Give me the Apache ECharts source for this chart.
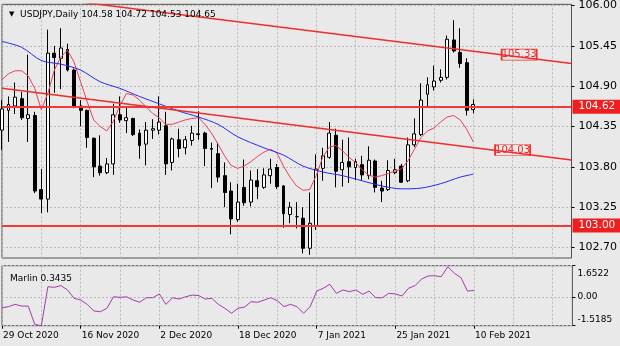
<!DOCTYPE html>
<html><head><meta charset="utf-8">
<script src="https://cdn.jsdelivr.net/npm/echarts@6/dist/echarts.min.js"></script>
<style>html,body{margin:0;padding:0;background:#e9e9e9}#c{width:620px;height:346px}</style>
</head><body><div id="c"></div>
<script>
const dates = ['29 Oct 2020','30 Oct 2020','2 Nov 2020','3 Nov 2020','4 Nov 2020','5 Nov 2020','6 Nov 2020','9 Nov 2020','10 Nov 2020','11 Nov 2020','12 Nov 2020','13 Nov 2020',
'16 Nov 2020','17 Nov 2020','18 Nov 2020','19 Nov 2020','20 Nov 2020','23 Nov 2020','24 Nov 2020','25 Nov 2020','26 Nov 2020','27 Nov 2020','30 Nov 2020','1 Dec 2020',
'2 Dec 2020','3 Dec 2020','4 Dec 2020','7 Dec 2020','8 Dec 2020','9 Dec 2020','10 Dec 2020','11 Dec 2020','14 Dec 2020','15 Dec 2020','16 Dec 2020','17 Dec 2020',
'18 Dec 2020','21 Dec 2020','22 Dec 2020','23 Dec 2020','24 Dec 2020','28 Dec 2020','29 Dec 2020','30 Dec 2020','31 Dec 2020','4 Jan 2021','5 Jan 2021','6 Jan 2021',
'7 Jan 2021','8 Jan 2021','11 Jan 2021','12 Jan 2021','13 Jan 2021','14 Jan 2021','15 Jan 2021','18 Jan 2021','19 Jan 2021','20 Jan 2021','21 Jan 2021','22 Jan 2021',
'25 Jan 2021','26 Jan 2021','27 Jan 2021','28 Jan 2021','29 Jan 2021','1 Feb 2021','2 Feb 2021','3 Feb 2021','4 Feb 2021','5 Feb 2021','8 Feb 2021','9 Feb 2021',
'10 Feb 2021'];
const futureSlots = ['','','','','','','','','','','','','','',''];
const categories = dates.concat(futureSlots);

const opens  = [104.30,104.57,104.63,104.73,104.46,104.50,103.49,103.36,105.35,105.28,105.40,105.12,
104.63,104.57,104.19,103.81,103.72,103.84,104.51,104.43,104.46,104.26,104.11,104.30,
104.30,104.36,103.86,104.17,104.06,104.16,104.25,104.26,104.05,103.98,103.68,103.47,
103.08,103.52,103.32,103.61,103.52,103.68,103.79,103.54,103.15,103.12,103.10,102.69,
103.00,103.78,103.93,104.23,103.76,103.87,103.79,103.83,103.68,103.88,103.51,103.49,
103.72,103.81,103.61,104.10,104.24,104.79,104.89,104.98,105.02,105.53,105.36,105.22,
104.58];
const highs  = [104.71,104.76,104.95,104.82,105.33,104.55,103.77,105.67,105.45,105.69,105.48,105.14,
104.71,104.58,104.20,104.23,103.92,104.66,104.76,104.62,104.47,104.31,104.41,104.45,
104.76,104.55,104.20,104.32,104.22,104.36,104.56,104.28,104.13,104.13,103.86,103.59,
103.57,103.90,103.75,103.77,103.78,103.91,103.84,103.55,103.32,103.32,103.25,103.45,
103.97,104.06,104.41,104.32,104.17,104.20,103.91,103.95,104.08,103.90,103.61,103.89,
103.91,103.84,104.20,104.46,104.94,105.02,105.18,105.13,105.59,105.80,105.69,105.28,
104.72];
const lows   = [104.03,104.14,104.52,104.44,104.14,103.44,103.17,103.18,104.81,104.86,105.10,104.60,
104.35,104.06,103.66,103.68,103.70,103.69,104.40,104.26,104.22,103.91,103.82,104.18,
104.24,103.69,103.75,103.93,103.97,104.09,104.17,103.81,103.51,103.59,103.25,102.88,
103.05,103.27,103.26,103.36,103.50,103.57,103.50,102.97,103.03,102.96,102.62,102.60,
102.94,103.61,103.91,103.52,103.53,103.58,103.62,103.62,103.63,103.45,103.32,103.47,
103.70,103.58,103.59,104.07,104.22,104.61,104.84,104.95,104.99,105.36,105.15,104.50,
104.53];
const closes = [104.59,104.65,104.75,104.47,104.51,103.47,103.36,105.35,105.29,105.42,105.12,104.62,
104.57,104.20,103.80,103.72,103.84,104.51,104.44,104.47,104.24,104.09,104.30,104.32,
104.41,103.84,104.18,104.05,104.17,104.26,104.24,104.05,104.04,103.66,103.45,103.09,
103.32,103.31,103.62,103.53,103.69,103.77,103.53,103.16,103.25,103.12,102.69,103.03,
103.77,103.95,104.26,103.74,103.86,103.80,103.87,103.69,103.89,103.52,103.47,103.75,
103.76,103.59,104.10,104.25,104.71,104.92,104.97,105.02,105.54,105.38,105.21,104.57,
104.65];

const redMA = [104.99,105.07,105.11,105.11,105.04,104.87,104.58,104.80,105.12,105.30,105.39,105.23,
104.96,104.69,104.44,104.35,104.29,104.42,104.63,104.80,104.78,104.71,104.62,104.53,
104.47,104.38,104.38,104.41,104.44,104.46,104.47,104.38,104.26,104.11,103.95,103.82,
103.78,103.81,103.87,103.94,104.00,104.04,103.99,103.81,103.66,103.54,103.48,103.49,
103.68,103.93,104.07,104.09,104.02,103.93,103.86,103.76,103.69,103.66,103.68,103.71,
103.74,103.77,103.88,104.04,104.20,104.29,104.33,104.41,104.48,104.50,104.44,104.31,
104.14];

const blueIdx = [0,3,6,9,12,15,18,21,24,27,30,33,36,40,43,46,49,52,55,58,61,64,67,70,72];
const blueMA  = [105.51,105.43,105.25,105.20,105.12,104.96,104.87,104.76,104.66,104.56,104.48,104.38,104.21,104.06,103.96,103.81,103.73,103.68,103.61,103.54,103.50,103.51,103.57,103.66,103.70];

const marlin = [-0.57,-0.51,-0.39,-0.48,-0.48,-1.45,-1.52,0.54,0.51,0.60,0.37,-0.07,
-0.16,-0.39,-0.74,-0.78,-0.60,0.01,-0.02,0.01,-0.16,-0.28,-0.04,-0.04,
0.16,-0.39,-0.04,-0.11,0.01,0.10,0.07,-0.11,-0.07,-0.39,-0.60,-0.86,
-0.60,-0.53,-0.25,-0.28,-0.16,-0.04,-0.20,-0.51,-0.39,-0.51,-0.86,-0.51,
0.31,0.46,0.67,0.19,0.37,0.28,0.37,0.14,0.31,-0.04,-0.04,0.19,
0.16,0.05,0.46,0.60,0.95,1.11,1.12,1.07,1.60,1.25,1.02,0.31,
0.3435];

const upperTrend = [[0,106.18],[87,105.21]];
const lowerTrend = [[0,104.872],[87,103.892]];
const upperTag = {idx: 79, value: 105.33};
const lowerTag = {idx: 78, value: 104.03};
const levels = [104.62, 103.00];
const lastPrice = 104.65;

const priceTicks = [102.70,103.25,103.80,104.35,104.90,105.45,106.00];
const marlinTicks = [-1.5185, 0, 1.6522];
const titleText = 'USDJPY,Daily 104.58 104.72 104.53 104.65';
const marlinTitle = 'Marlin 0.3435';

const FONT = 'DejaVu Sans';
const candleData = opens.map((o,i)=>[o, closes[i], lows[i], highs[i]]);
const isLabelIdx = i => i % 12 === 0 && i < dates.length;
const isGridIdx = i => i % 6 === 0;
const gridLine = {show:true, lineStyle:{color:'#b9b9b9', type:[2,2], width:1}};
const boxLabel = (txt, bg) => ({show:true, position:'end', distance:1, formatter:txt, color:'#fff', backgroundColor:bg,
  padding:[2,8,1,6], fontFamily:FONT, fontSize:10.5});

const chart = echarts.init(document.getElementById('c'), null, {renderer:'canvas'});
chart.setOption({
  backgroundColor:'#e9e9e9',
  animation:false,
  title:[
    {text:'{tri|▼}  ' + titleText, left:4, top:5,
     textStyle:{fontFamily:FONT, fontSize:9, fontWeight:'normal', color:'#000',
       rich:{tri:{fontSize:7, color:'#000'}}}},
    {text:marlinTitle, left:5, top:269, textStyle:{fontFamily:FONT, fontSize:9, fontWeight:'normal', color:'#000'}}
  ],
  grid:[
    {left:2, top:2, width:570.4, height:256, show:true, borderColor:'#505050', borderWidth:1, backgroundColor:'transparent'},
    {left:2, top:265.7, width:570.4, height:60, show:true, borderColor:'#505050', borderWidth:1, backgroundColor:'transparent'}
  ],
  xAxis:[
    {type:'category', gridIndex:0, data:categories, boundaryGap:false,
     axisLine:{show:false, onZero:false}, axisTick:{show:false}, axisLabel:{show:false},
     splitLine:Object.assign({interval:(i)=>isGridIdx(i)}, gridLine)},
    {type:'category', gridIndex:1, data:categories, boundaryGap:false, position:'bottom',
     axisLine:{show:false, onZero:false},
     axisTick:{show:true, interval:(i)=>isLabelIdx(i), length:3, lineStyle:{color:'#000'}},
     axisLabel:{show:true, interval:(i)=>isLabelIdx(i), align:'left', margin:5, padding:[0,0,0,1],
       fontFamily:FONT, fontSize:9, color:'#000'},
     splitLine:Object.assign({interval:(i)=>isGridIdx(i)}, gridLine)}
  ],
  yAxis:[
    {type:'value', gridIndex:0, position:'right', min:102.557, max:106.016, scale:true,
     axisLine:{show:false},
     axisTick:{show:true, customValues:priceTicks, length:3, lineStyle:{color:'#000'}},
     axisLabel:{customValues:priceTicks, formatter:v=>v.toFixed(2), margin:7, fontFamily:FONT, fontSize:11, color:'#000'},
     splitLine:gridLine},
    {type:'value', gridIndex:1, position:'right', min:-1.5185, max:1.6522,
     axisLine:{show:false},
     axisTick:{show:true, customValues:marlinTicks, length:3, lineStyle:{color:'#000'}},
     axisLabel:{customValues:marlinTicks, margin:5, fontFamily:FONT, fontSize:9, color:'#000',
       formatter:v=> v > 1 ? '{t|1.6522}' : (v < -1 ? '{b|-1.5185}' : '0.00'),
       rich:{t:{padding:[16,0,0,0]}, b:{padding:[0,0,13,0]}}},
     splitLine:gridLine}
  ],
  series:[
    {type:'candlestick', xAxisIndex:0, yAxisIndex:0, data:candleData, barWidth:3.4, z:3,
     itemStyle:{color:'#ffffff', color0:'#000000', borderColor:'#000000', borderColor0:'#000000', borderWidth:1},
     markLine:{silent:true, symbol:'none', animation:false,
       data:[
         {yAxis:lastPrice, lineStyle:{opacity:0}, label:boxLabel(lastPrice.toFixed(2), '#000')},
         {yAxis:levels[0], lineStyle:{color:'#f23a3a', width:2, type:'solid'}, label:boxLabel(levels[0].toFixed(2), '#f01e1e')},
         {yAxis:levels[1], lineStyle:{color:'#f23a3a', width:2, type:'solid'}, label:boxLabel(levels[1].toFixed(2), '#f01e1e')}
       ]}},
    {type:'line', xAxisIndex:0, yAxisIndex:0, data:redMA, showSymbol:false, z:4,
     lineStyle:{color:'#e8405c', width:1}},
    {type:'line', xAxisIndex:0, yAxisIndex:0, data:blueIdx.map((x,k)=>[x, blueMA[k]]), showSymbol:false, z:4, smooth:0.3,
     lineStyle:{color:'#2828f0', width:1}},
    {type:'line', xAxisIndex:0, yAxisIndex:0, data:upperTrend, showSymbol:false, z:5, clip:true,
     lineStyle:{color:'#f02c2c', width:1.5},
     markPoint:{symbol:'rect', symbolSize:[35,11], silent:true,
       itemStyle:{color:'rgba(0,0,0,0)', borderColor:'#f02c2c', borderWidth:1},
       label:{show:true, position:'inside', formatter:upperTag.value.toFixed(2), color:'#f02c2c', fontFamily:FONT, fontSize:10},
       data:[{coord:[upperTag.idx, upperTag.value]}]}},
    {type:'line', xAxisIndex:0, yAxisIndex:0, data:lowerTrend, showSymbol:false, z:5, clip:true,
     lineStyle:{color:'#f02c2c', width:1.5},
     markPoint:{symbol:'rect', symbolSize:[35,11], silent:true,
       itemStyle:{color:'rgba(0,0,0,0)', borderColor:'#f02c2c', borderWidth:1},
       label:{show:true, position:'inside', formatter:lowerTag.value.toFixed(2), color:'#f02c2c', fontFamily:FONT, fontSize:10},
       data:[{coord:[lowerTag.idx, lowerTag.value]}]}},
    {type:'line', xAxisIndex:1, yAxisIndex:1, data:marlin, showSymbol:false, z:4,
     lineStyle:{color:'#a33ca6', width:1}}
  ]
});
</script></body></html>
